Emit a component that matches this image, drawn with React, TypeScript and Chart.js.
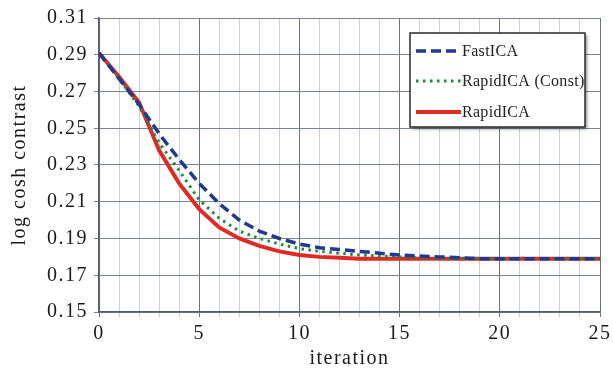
import React, { useEffect, useRef } from "react";
import { Chart, registerables } from "chart.js";

Chart.register(...registerables);

const iterations = [0, 1, 2, 3, 4, 5, 6, 7, 8, 9, 10, 11, 12, 13, 14, 15, 16, 17, 18, 19, 20, 21, 22, 23, 24, 25];
const fastICA = [0.291, 0.277, 0.263, 0.247, 0.233, 0.220, 0.209, 0.200, 0.194, 0.190, 0.187, 0.185, 0.184, 0.183, 0.182, 0.181, 0.1805, 0.180, 0.1795, 0.179, 0.179, 0.179, 0.179, 0.179, 0.179, 0.179];
const rapidICAConst = [0.291, 0.277, 0.262, 0.242, 0.227, 0.211, 0.201, 0.194, 0.190, 0.187, 0.1845, 0.183, 0.182, 0.181, 0.1805, 0.180, 0.1795, 0.179, 0.179, 0.179, 0.179, 0.179, 0.179, 0.179, 0.179, 0.179];
const rapidICA = [0.291, 0.278, 0.264, 0.238, 0.220, 0.206, 0.196, 0.190, 0.186, 0.183, 0.181, 0.180, 0.1795, 0.179, 0.179, 0.179, 0.179, 0.179, 0.179, 0.179, 0.179, 0.179, 0.179, 0.179, 0.179, 0.179];
const seriesNames = ["FastICA", "RapidICA (Const)", "RapidICA"];
const xTickLabels = [0, 5, 10, 15, 20, 25];
const yMin = 0.15;
const yMax = 0.31;
const yStep = 0.02;

const FONT = "'Liberation Serif', 'Times New Roman', serif";

const spacingPlugin = {
  id: "spacing",
  beforeUpdate(chart: any) {
    chart.ctx.letterSpacing = "1.5px";
  },
  beforeDraw(chart: any) {
    chart.ctx.letterSpacing = "1.5px";
  },
};

const legendBoxPlugin = {
  id: "legendBox",
  afterDraw(chart: any) {
    const ctx = chart.ctx;
    const area = chart.chartArea;
    const x0 = area.right - 190;
    const y0 = area.top + 15;
    const w = 175;
    const h = 94;
    ctx.save();
    ctx.shadowColor = "rgba(0,0,0,0.45)";
    ctx.shadowOffsetX = 2;
    ctx.shadowOffsetY = 2;
    ctx.shadowBlur = 3;
    ctx.fillStyle = "#ffffff";
    ctx.fillRect(x0, y0, w, h);
    ctx.shadowColor = "transparent";
    ctx.strokeStyle = "#2a2a2a";
    ctx.lineWidth = 1.5;
    ctx.strokeRect(x0, y0, w, h);
    const rows = [18, 48, 79];
    chart.data.datasets.forEach((ds: any, i: number) => {
      const y = y0 + rows[i];
      ctx.beginPath();
      ctx.strokeStyle = ds.borderColor;
      ctx.lineWidth = ds.borderWidth;
      ctx.setLineDash(ds.borderDash || []);
      ctx.lineCap = ds.borderCapStyle || "butt";
      ctx.moveTo(x0 + 6, y);
      ctx.lineTo(x0 + 51, y);
      ctx.stroke();
      ctx.setLineDash([]);
      ctx.fillStyle = "#222";
      ctx.font = `16px ${FONT}`;
      ctx.letterSpacing = "0.3px";
      ctx.textBaseline = "middle";
      ctx.textAlign = "left";
      ctx.fillText(ds.label, x0 + 52, y + 1);
    });
    ctx.restore();
  },
};

export default function App() {
  const ref = useRef<HTMLCanvasElement | null>(null);
  useEffect(() => {
    document.body.style.margin = "0";
    const canvas = ref.current!;
    const chart = new Chart(canvas, {
      type: "line",
      data: {
        labels: iterations,
        datasets: [
          {
            label: seriesNames[0],
            data: iterations.map((x, i) => ({ x, y: fastICA[i] })),
            borderColor: "#1f3a8f",
            borderWidth: 3.5,
            borderDash: [10, 5],
            pointRadius: 0,
            tension: 0,
          },
          {
            label: seriesNames[1],
            data: iterations.map((x, i) => ({ x, y: rapidICAConst[i] })),
            borderColor: "#1a8c3a",
            borderWidth: 3,
            borderDash: [2.5, 4.5],
            pointRadius: 0,
            tension: 0,
          },
          {
            label: seriesNames[2],
            data: iterations.map((x, i) => ({ x, y: rapidICA[i] })),
            borderColor: "#e02a26",
            borderWidth: 4,
            pointRadius: 0,
            tension: 0,
          },
        ],
      },
      options: {
        animation: false,
        responsive: false,
        devicePixelRatio: 1,
        layout: { padding: { top: 17, right: 13, left: 0, bottom: 0 } },
        plugins: { legend: { display: false }, tooltip: { enabled: false } },
        scales: {
          x: {
            type: "linear",
            min: 0,
            max: 25,
            afterFit(scale: any) {
              scale.height = 57;
              scale.paddingRight = 0;
              scale.paddingLeft = 0;
            },
            ticks: {
              stepSize: 1,
              autoSkip: false,
              maxRotation: 0,
              padding: 5,
              color: "#1a1a1a",
              font: { family: FONT, size: 20 },
              callback: (v: any) => (xTickLabels.includes(Number(v)) ? String(v) : ""),
            },
            grid: {
              color: (c: any) => (c.tick && Number(c.tick.value) % 5 === 0 ? "#6d7384" : "#c9d0dc"),
              lineWidth: 1,
              tickLength: 5,
              drawTicks: true,
            },
            border: { color: "#555a66", width: 1.5 },
            title: {
              display: true,
              text: "iteration",
              color: "#1a1a1a",
              font: { family: FONT, size: 20, lineHeight: 1 },
              padding: { top: 0, bottom: 0 },
            },
          },
          y: {
            min: yMin,
            max: yMax,
            afterFit(scale: any) {
              scale.width = 99;
            },
            ticks: {
              stepSize: yStep,
              padding: 6,
              color: "#1a1a1a",
              font: { family: FONT, size: 20 },
              callback: (v: any) => Number(v).toFixed(2),
            },
            grid: {
              color: "#7d8392",
              lineWidth: 1,
              tickLength: 5,
            },
            border: { color: "#555a66", width: 1.5 },
            title: {
              display: true,
              text: "log cosh contrast",
              color: "#1a1a1a",
              font: { family: FONT, size: 20, lineHeight: 1.2 },
              padding: { top: 8, bottom: 0 },
            },
          },
        },
      },
      plugins: [spacingPlugin, legendBoxPlugin],
    } as any);
    return () => chart.destroy();
  }, []);
  return (
    <div style={{ position: "absolute", left: 0, top: 0, width: 613, height: 369, background: "#ffffff" }}>
      <canvas ref={ref} width={613} height={369} />
    </div>
  );
}
